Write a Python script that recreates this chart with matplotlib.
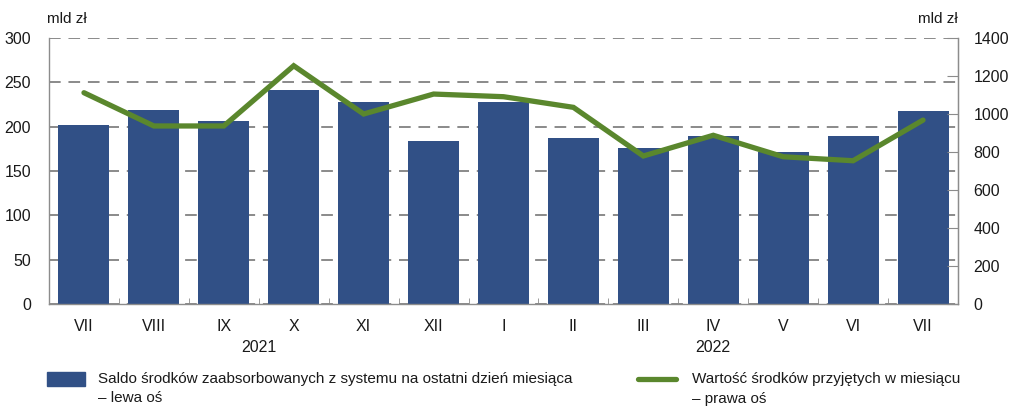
import matplotlib
matplotlib.use("Agg")
import matplotlib.pyplot as plt
import numpy as np

plt.rcParams['font.family'] = ['Liberation Sans', 'DejaVu Sans']

months = ["VII", "VIII", "IX", "X", "XI", "XII", "I", "II", "III", "IV", "V", "VI", "VII"]
years = ["2021", "2022"]
saldo = [202, 219, 206, 241, 228, 184, 228, 187, 176, 189, 171, 190, 218]
wartosc = [1112, 937, 937, 1254, 1000, 1105, 1091, 1035, 779, 888, 775, 754, 968]

bar_label = "Saldo środków zaabsorbowanych z systemu na ostatni dzień miesiąca\n– lewa oś"
line_label = "Wartość środków przyjętych w miesiącu\n– prawa oś"

blue = "#315086"
green = "#5A872D"
axis_gray = "#8C8C8C"

fig = plt.figure(figsize=(10.09, 4.07), dpi=100)
ax = fig.add_axes([49/1009, 103/407, (958-49)/1009, (304-38)/407])
x = np.arange(len(months))
ax.bar(x, saldo, width=0.73, color=blue, zorder=2)
ax.set_xlim(-0.5, len(months) - 0.5)
ax.set_ylim(0, 300)
ax.set_yticks(np.arange(0, 301, 50))
ax.yaxis.grid(True, linestyle=(0, (6, 4)), color="#8A8A8A", linewidth=1.4, zorder=0)
ax.set_axisbelow(True)
ax.set_xticks(x)
ax.set_xticklabels(months)
ax.set_xticks(np.arange(0.5, len(months) - 1, 1), minor=True)
ax.tick_params(axis="x", which="major", length=0, pad=11, labelsize=11.5, colors="#1a1a1a")
ax.tick_params(axis="x", which="minor", direction="in", length=4, color=axis_gray)
ax.tick_params(axis="y", length=0, pad=13, labelsize=11.5, colors="#1a1a1a")
for s in ["left", "bottom", "right"]:
    ax.spines[s].set_color(axis_gray)
    ax.spines[s].set_linewidth(1.0)
ax.spines["top"].set_visible(False)

ax2 = ax.twinx()
ax2.plot(x, wartosc, color=green, linewidth=3.8, solid_capstyle="round", solid_joinstyle="miter", zorder=3)
ax2.set_ylim(0, 1400)
ax2.set_yticks(np.arange(0, 1401, 200))
ax2.tick_params(axis="y", direction="in", length=8, color=axis_gray, pad=11, labelsize=11.5, colors="#1a1a1a")
for s in ["left", "top", "bottom"]:
    ax2.spines[s].set_visible(False)
ax2.spines["right"].set_color(axis_gray)

fig.text(47/1009, 1 - 19/407, "mld zł", ha="left", va="center", fontsize=11, color="#1a1a1a")
fig.text(958/1009, 1 - 19/407, "mld zł", ha="right", va="center", fontsize=11, color="#1a1a1a")

def xfig(v):
    return (49 + (v + 0.5) * (958 - 49) / len(months)) / 1009

fig.text(xfig(2.5), 1 - 348/407, years[0], ha="center", va="center", fontsize=11.5, color="#1a1a1a")
fig.text(xfig(9), 1 - 348/407, years[1], ha="center", va="center", fontsize=11.5, color="#1a1a1a")

# legend
fig.patches.append(matplotlib.patches.Rectangle((47/1009, 1 - 386/407), 38/1009, 14/407,
                                                transform=fig.transFigure, color=blue))
fig.text(98/1009, 1 - 372/407, bar_label, ha="left", va="top", fontsize=11, color="#1a1a1a", linespacing=1.5)
fig.lines.append(matplotlib.lines.Line2D([638/1009, 676/1009], [1 - 379/407, 1 - 379/407],
                                         transform=fig.transFigure, color=green, linewidth=3.8,
                                         solid_capstyle="round"))
fig.text(692/1009, 1 - 372/407, line_label, ha="left", va="top", fontsize=11, color="#1a1a1a", linespacing=1.5)

fig.savefig("out.png", dpi=100)
